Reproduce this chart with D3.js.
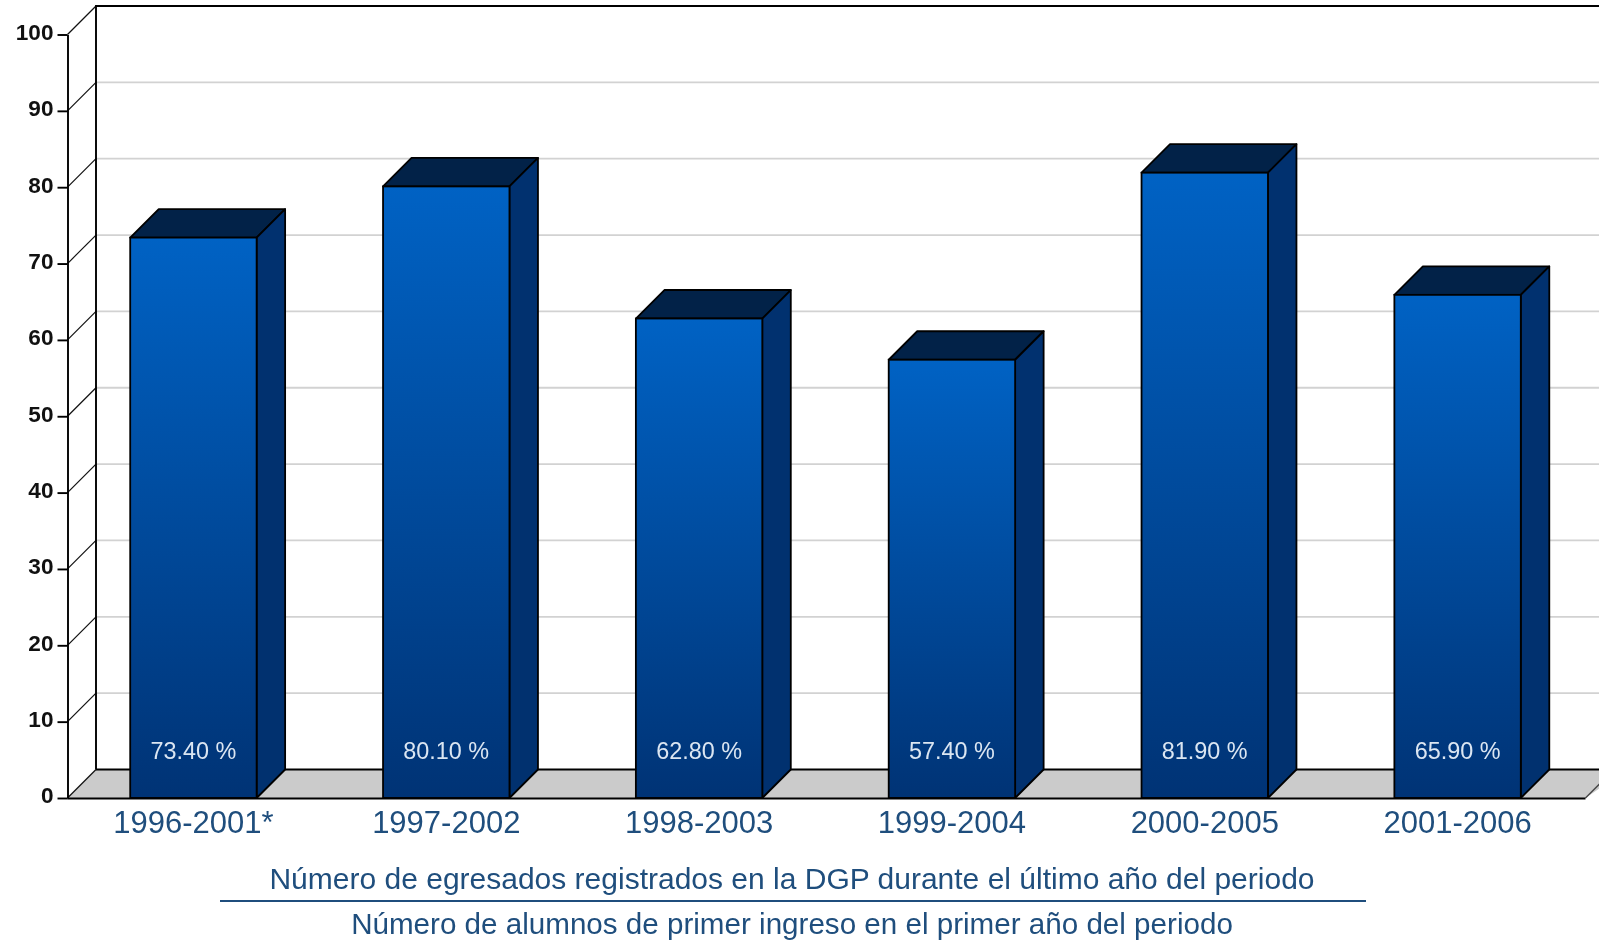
<!DOCTYPE html>
<html><head><meta charset="utf-8">
<script src="https://cdn.jsdelivr.net/npm/d3@7/dist/d3.min.js"></script>
<style>
html,body{margin:0;padding:0;background:#fff;overflow:hidden}
svg{display:block;filter:blur(.6px)}
text{font-family:"Liberation Sans",Arial,sans-serif}
</style></head><body><div id="c"></div>
<script>
const categories=["1996-2001*","1997-2002","1998-2003","1999-2004","2000-2005","2001-2006"];
const values=[73.4,80.1,62.8,57.4,81.9,65.9];
const valueLabels=["73.40 %","80.10 %","62.80 %","57.40 %","81.90 %","65.90 %"];
const yTicks=[0,10,20,30,40,50,60,70,80,90,100];
const numerator="Número de egresados registrados en la DGP durante el último año del periodo";
const denominator="Número de alumnos de primer ingreso en el primer año del periodo";

const W=1599,H=942,d=28.5,x0=67.5,x1=1585.5,yB=798,yT=34.5;
const navy="#1f4e7d";
const svg=d3.select("#c").append("svg").attr("width",W).attr("height",H);
const x=d3.scaleBand().domain(categories).range([67,1584]).paddingInner(.5).paddingOuter(.25);
const y=d3.scaleLinear().domain([0,100]).range([yB,yT]);
const grad=svg.append("defs").append("linearGradient").attr("id","g").attr("x1",0).attr("x2",0).attr("y1",0).attr("y2",1);
grad.append("stop").attr("offset",0).attr("stop-color","#0062c4");
grad.append("stop").attr("offset",1).attr("stop-color","#003375");

// floor
svg.append("path").attr("d",`M${x0},${yB}L${x0+d},${yB-d}H${W+d}L${x1},${yB}Z`).attr("fill","#cbcbcb");
// grid on the back wall
svg.append("g").selectAll("line").data(yTicks.filter(t=>t>0&&t<100)).join("line")
 .attr("x1",x0+d).attr("x2",W).attr("y1",t=>y(t)-d).attr("y2",t=>y(t)-d)
 .attr("stroke","#d2d2d2").attr("stroke-width",1.8);
// wall diagonals
svg.append("g").selectAll("line").data(yTicks).join("line")
 .attr("x1",x0).attr("y1",t=>y(t)).attr("x2",x0+d).attr("y2",t=>y(t)-d)
 .attr("stroke","#111").attr("stroke-width",1.2);
const frame=svg.append("g").attr("stroke","#000").attr("stroke-width",1.9).attr("fill","none");
frame.append("path").attr("d",`M${x0+d},${yB-d}V${yT-d}H${W}`);
frame.append("path").attr("d",`M${x0+d},${yB-d}H${W}`);
frame.append("path").attr("d",`M${x1},${yB}L${x1+d},${yB-d}`).attr("stroke","#444").attr("stroke-width",1.3);
// y axis
const ya=svg.append("g").attr("transform",`translate(${x0},0)`)
 .call(d3.axisLeft(y).tickValues(yTicks).tickSize(10).tickPadding(4).tickSizeOuter(0));
ya.selectAll("path,line").attr("stroke","#000").attr("stroke-width",1.9);
ya.selectAll("text").attr("font-size",22.6).attr("font-weight","bold").attr("fill","#111").attr("dy","0.22em").attr("font-family",'"Liberation Sans"');
// bars
const bw=x.bandwidth();
const bars=svg.append("g").selectAll("g").data(values).join("g");
const cat=(v,i)=>x(categories[i]);
bars.append("path").attr("d",(v,i)=>`M${cat(v,i)},${y(v)}l${d},${-d}h${bw}l${-d},${d}Z`)
 .attr("fill","#022248").attr("stroke","#000").attr("stroke-width",1.8).attr("stroke-linejoin","round");
bars.append("path").attr("d",(v,i)=>`M${cat(v,i)+bw},${y(v)}l${d},${-d}V${yB-d}L${cat(v,i)+bw},${yB}Z`)
 .attr("fill","#01316f").attr("stroke","#000").attr("stroke-width",1.8).attr("stroke-linejoin","round");
bars.append("rect").attr("x",cat).attr("y",v=>y(v)).attr("width",bw).attr("height",v=>yB-y(v))
 .attr("fill","url(#g)").attr("stroke","#000").attr("stroke-width",1.8);
bars.append("text").attr("x",(v,i)=>cat(v,i)+bw/2).attr("y",759).attr("text-anchor","middle")
 .attr("font-size",23.4).attr("fill","#dbe6f2").text((v,i)=>valueLabels[i]);
// x axis
const xa=svg.append("g").attr("transform",`translate(0,${yB})`).call(d3.axisBottom(x).tickSize(0).tickPadding(13));
xa.select("path").attr("stroke","#000").attr("stroke-width",1.9).attr("d",`M${x0},0.5H${x1}`);
xa.selectAll("text").attr("font-size",31).attr("fill",navy).attr("font-family",'"Liberation Sans"');
// formula
const cx=(220+1366)/2;
svg.append("text").attr("x",cx-1).attr("y",889).attr("text-anchor","middle").attr("font-size",30).attr("fill",navy).text(numerator);
svg.append("line").attr("x1",220).attr("x2",1366).attr("y1",901).attr("y2",901).attr("stroke",navy).attr("stroke-width",1.8);
svg.append("text").attr("x",cx-1).attr("y",934).attr("text-anchor","middle").attr("font-size",29.6).attr("fill",navy).text(denominator);
</script></body></html>
